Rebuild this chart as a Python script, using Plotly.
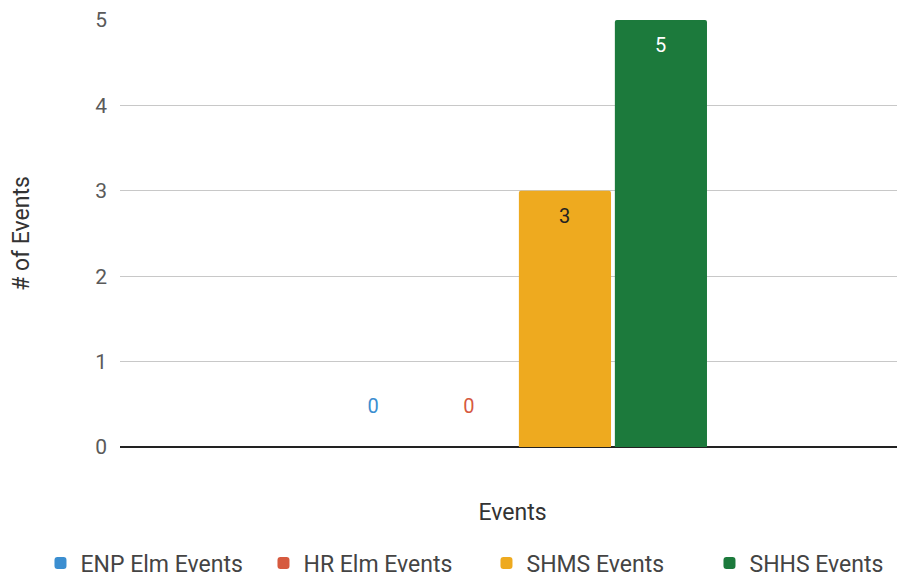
import plotly.graph_objects as go

categories = [""]
series_names = ["ENP Elm Events", "HR Elm Events", "SHMS Events", "SHHS Events"]
series_values = [[0], [0], [3], [5]]
colors = ["#3b8ed0", "#d65a3f", "#eeaa1f", "#1c7a3c"]
label_colors = ["#3b8ed0", "#d65a3f", "#222222", "#ffffff"]
y_ticks = [0, 1, 2, 3, 4, 5]

BARGAP = 0.511
GROUPGAP = 0.04
n = len(series_names)

fig = go.Figure()
annotations = []
for i, (name, vals, col, lc) in enumerate(zip(series_names, series_values, colors, label_colors)):
    inside = vals[0] > 0
    fig.add_trace(go.Bar(
        x=categories, y=vals, name=name,
        marker=dict(color=col, line=dict(width=0), cornerradius=2),
        text=None if inside else [str(v) for v in vals],
        texttemplate=None if inside else "%{y}<br> ",
        textposition="outside",
        textfont=dict(family="Roboto", size=20, color=lc),
        outsidetextfont=dict(family="Roboto", size=20, color=lc),
        cliponaxis=False,
    ))
    if inside:
        # label near the top of the bar, at the bar's position in the group
        xc = -(1 - BARGAP) / 2 + (i + 0.5) * (1 - BARGAP) / n
        for v in vals:
            annotations.append(dict(
                x=xc, y=v, xref="x", yref="y", text=str(v), showarrow=False,
                yshift=-25, yanchor="middle",
                font=dict(family="Roboto", size=20, color=lc),
            ))

fig.update_layout(
    width=905, height=582,
    margin=dict(l=112, r=8, t=12, b=143, autoexpand=False),
    paper_bgcolor="white", plot_bgcolor="white",
    barmode="group", bargap=BARGAP, bargroupgap=GROUPGAP,
    font=dict(family="Roboto", color="#444444"),
    annotations=annotations,
    xaxis=dict(
        range=[-0.5057, 0.4943], automargin=False,
        showticklabels=False, showgrid=False, zeroline=False, showline=False,
        title=dict(text="Events", font=dict(size=23, color="#333333"), standoff=56),
    ),
    yaxis=dict(
        range=[0, 5], tickvals=y_ticks, automargin=False,
        tickfont=dict(size=21, color="#5a5a5a"),
        gridcolor="#c8c8c8", gridwidth=1,
        zeroline=True, zerolinecolor="#222222", zerolinewidth=2,
        showline=False, ticklabelstandoff=12,
        title=dict(text="# of Events", font=dict(size=23, color="#333333"), standoff=62),
    ),
    legend=dict(
        orientation="h", x=-0.1013, xanchor="left", y=-0.2717, yanchor="middle",
        font=dict(size=23, color="#444444"), entrywidth=178, entrywidthmode="pixels",
        traceorder="normal",
    ),
    showlegend=True,
)

fig.write_html("out.html")
